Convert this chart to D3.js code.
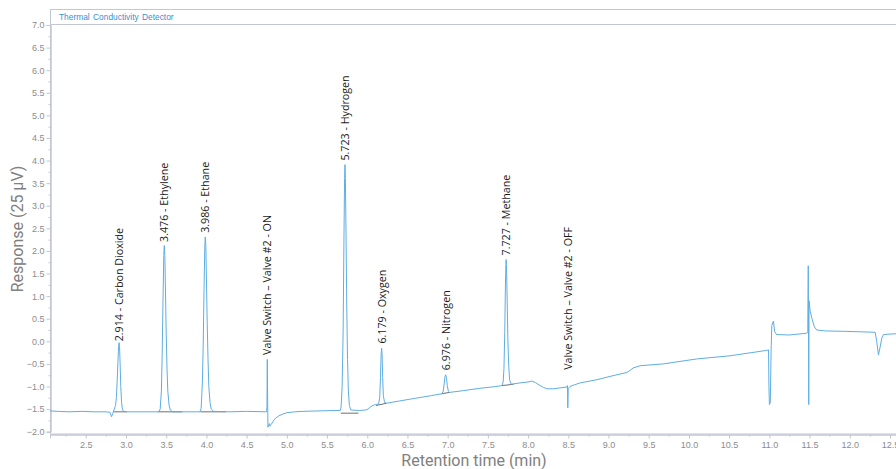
<!DOCTYPE html>
<html>
<head>
<meta charset="utf-8">
<script src="https://cdn.jsdelivr.net/npm/d3@7"></script>
<style>
  body { margin: 0; background: #fff; }
  svg { display: block; }
</style>
</head>
<body>
<svg id="canvas" width="896" height="469"></svg>
<script>
'use strict';

var chartTitle = 'Thermal Conductivity Detector';
var xTitle = 'Retention time (min)';
var yTitle = 'Response (25 \u00b5V)';

var xTickValues = [2.5, 3.0, 3.5, 4.0, 4.5, 5.0, 5.5, 6.0, 6.5, 7.0, 7.5, 8.0, 8.5, 9.0, 9.5, 10.0, 10.5, 11.0, 11.5, 12.0, 12.5];
var yTickValues = [-2.0, -1.5, -1.0, -0.5, 0.0, 0.5, 1.0, 1.5, 2.0, 2.5, 3.0, 3.5, 4.0, 4.5, 5.0, 5.5, 6.0, 6.5, 7.0];

// [time (min), response]
var tracePoints = [
  [2.055, -1.54], [2.15, -1.55], [2.3, -1.56], [2.45, -1.55], [2.6, -1.56], [2.75, -1.56], [2.8, -1.57],
  [2.82, -1.67], [2.835, -1.6], [2.85, -1.52], [2.87, -1.42], [2.88, -1.25], [2.89, -0.9], [2.9, -0.45],
  [2.908, -0.12], [2.914, -0.03], [2.92, -0.12], [2.927, -0.5], [2.935, -1.0], [2.945, -1.35], [2.955, -1.5],
  [2.97, -1.55], [3.0, -1.56], [3.2, -1.56], [3.41, -1.56],
  [3.425, -1.5], [3.44, -1.1], [3.45, -0.3], [3.46, 0.9], [3.47, 1.9], [3.476, 2.12], [3.483, 1.9],
  [3.49, 1.2], [3.5, 0.2], [3.51, -0.6], [3.52, -1.1], [3.535, -1.4], [3.55, -1.52], [3.58, -1.56],
  [3.8, -1.56], [3.92, -1.56],
  [3.935, -1.48], [3.95, -0.9], [3.96, -0.1], [3.97, 1.1], [3.98, 2.1], [3.986, 2.31], [3.993, 2.1],
  [4.0, 1.4], [4.01, 0.4], [4.02, -0.4], [4.03, -1.0], [4.045, -1.35], [4.06, -1.5], [4.09, -1.55],
  [4.3, -1.56], [4.5, -1.55], [4.748, -1.56],
  [4.753, -1.45], [4.757, -0.40], [4.761, -1.2], [4.765, -1.9], [4.772, -1.86], [4.782, -1.82],
  [4.791, -1.88], [4.805, -1.84], [4.83, -1.77], [4.86, -1.70], [4.9, -1.65], [4.95, -1.61],
  [5.0, -1.58], [5.1, -1.56], [5.2, -1.55], [5.4, -1.54], [5.6, -1.53], [5.665, -1.53],
  [5.675, -1.45], [5.688, -1.0], [5.7, 0.2], [5.71, 2.2], [5.718, 3.6], [5.723, 3.91], [5.728, 3.6],
  [5.736, 2.4], [5.745, 0.8], [5.755, -0.4], [5.765, -1.1], [5.778, -1.42], [5.795, -1.52],
  [5.9, -1.53], [5.98, -1.52], [6.01, -1.50], [6.04, -1.45], [6.07, -1.42], [6.1, -1.40], [6.14, -1.39],
  [6.155, -1.25], [6.165, -0.8], [6.172, -0.3], [6.179, -0.15], [6.185, -0.3], [6.192, -0.8], [6.2, -1.2],
  [6.215, -1.35], [6.24, -1.37],
  [6.4, -1.32], [6.6, -1.26], [6.8, -1.20], [6.93, -1.16],
  [6.945, -1.1], [6.958, -0.92], [6.968, -0.77], [6.976, -0.74], [6.985, -0.8], [6.995, -0.98],
  [7.008, -1.1], [7.025, -1.13],
  [7.2, -1.09], [7.4, -1.04], [7.6, -1.0], [7.675, -0.98],
  [7.69, -0.9], [7.7, -0.6], [7.71, 0.2], [7.718, 1.2], [7.724, 1.7], [7.727, 1.81], [7.731, 1.7],
  [7.738, 1.1], [7.748, 0.1], [7.758, -0.5], [7.77, -0.85], [7.79, -0.95],
  [7.9, -0.92], [8.0, -0.90], [8.046, -0.88], [8.09, -0.91], [8.14, -0.97], [8.19, -1.02], [8.233, -1.05],
  [8.32, -1.05], [8.398, -1.03], [8.485, -1.01], [8.49, -0.98], [8.494, -1.47], [8.499, -1.05],
  [8.52, -1.0], [8.58, -0.96], [8.647, -0.92], [8.854, -0.85], [9.057, -0.76], [9.228, -0.69],
  [9.27, -0.64], [9.306, -0.59], [9.393, -0.54], [9.679, -0.50], [10.098, -0.39], [10.512, -0.32],
  [10.969, -0.20], [10.99, -0.19],
  [10.995, -1.0], [11.001, -1.40], [11.012, -1.35], [11.022, -0.2], [11.031, 0.35], [11.051, 0.45],
  [11.066, 0.22], [11.09, 0.15], [11.25, 0.14], [11.466, 0.18],
  [11.478, 0.2], [11.484, 1.67], [11.487, 0.4], [11.49, -1.40], [11.494, 0.9], [11.507, 0.68],
  [11.53, 0.5], [11.56, 0.32], [11.59, 0.25], [11.7, 0.23], [11.95, 0.22], [12.15, 0.21], [12.316, 0.20],
  [12.335, 0.0], [12.357, -0.30], [12.375, -0.15], [12.4, 0.08], [12.419, 0.15], [12.5, 0.16], [12.6, 0.17]
];

// peak annotations: retention time, text, response where the text starts
var peakTimes = [2.914, 3.476, 3.986, 4.757, 5.723, 6.179, 6.976, 7.727, 8.494];
var peakLabels = [
  '2.914 - Carbon Dioxide',
  '3.476 - Ethylene',
  '3.986 - Ethane',
  'Valve Switch \u2013 Valve #2 - ON',
  '5.723 - Hydrogen',
  '6.179 - Oxygen',
  '6.976 - Nitrogen',
  '7.727 - Methane',
  'Valve Switch \u2013 Valve #2 - OFF'
];
var labelResponses = [0.0, 2.2, 2.4, -0.3, 4.0, -0.05, -0.64, 1.9, -0.63];

// integration baselines under peaks: [t0, v0, t1, v1]
var integrationBaselines = [
  [2.84, -1.56, 3.01, -1.56],
  [3.40, -1.56, 3.70, -1.56],
  [3.925, -1.56, 4.24, -1.56],
  [5.67, -1.59, 5.89, -1.59],
  [6.11, -1.42, 6.24, -1.37],
  [6.925, -1.16, 7.025, -1.13],
  [7.675, -0.98, 7.82, -0.95]
];

var MARGIN = { left: 50, top: 24, right: 898, bottom: 434 };
var AXIS_COLOR = '#c3c6d4';
var TICK_TEXT_COLOR = '#8c8c8c';
var TRACE_COLOR = '#5eaee3';

function RenderChart() {
  var svg = d3.select('#canvas');

  var x = d3.scaleLinear()
      .domain([2.055, 12.6])
      .range([MARGIN.left, MARGIN.right]);
  var y = d3.scaleLinear()
      .domain([-2, 7])
      .range([431.7, 25]);

  // frame + title strip
  svg.append('rect')
      .attr('x', MARGIN.left + 0.5)
      .attr('y', 9.5)
      .attr('width', MARGIN.right - MARGIN.left)
      .attr('height', MARGIN.bottom - 9.5)
      .attr('fill', 'none')
      .attr('stroke', AXIS_COLOR);
  svg.append('line')
      .attr('x1', MARGIN.left)
      .attr('x2', MARGIN.right)
      .attr('y1', MARGIN.top + 0.5)
      .attr('y2', MARGIN.top + 0.5)
      .attr('stroke', AXIS_COLOR);
  svg.append('text')
      .attr('x', 59)
      .attr('y', 20)
      .attr('fill', '#3b8fd4')
      .attr('font-family', 'Liberation Sans, Arial, sans-serif')
      .attr('font-size', 8.4)
      .attr('word-spacing', 1)
      .text(chartTitle);

  // axes
  var xMinor = d3.range(2.25, 12.6, 0.25).filter(function(t) {
    return Math.abs(t * 2 - Math.round(t * 2)) > 1e-6;
  });
  svg.append('g')
      .attr('transform', 'translate(0,' + (MARGIN.bottom + 0.5) + ')')
      .call(d3.axisBottom(x).tickValues(xMinor).tickSize(2).tickFormat(''))
      .call(StyleAxis);
  svg.append('g')
      .attr('transform', 'translate(0,' + (MARGIN.bottom + 0.5) + ')')
      .call(d3.axisBottom(x).tickValues(xTickValues).tickSize(4).tickPadding(3)
        .tickFormat(d3.format('.1f')))
      .call(StyleAxis);

  var yMinor = d3.range(-1.75, 7, 0.5);
  svg.append('g')
      .attr('transform', 'translate(' + (MARGIN.left + 0.5) + ',0)')
      .call(d3.axisLeft(y).tickValues(yMinor).tickSize(2).tickFormat(''))
      .call(StyleAxis);
  svg.append('g')
      .attr('transform', 'translate(' + (MARGIN.left + 0.5) + ',0)')
      .call(d3.axisLeft(y).tickValues(yTickValues).tickSize(4).tickPadding(2)
        .tickFormat(d3.format('.1f')))
      .call(StyleAxis);

  // axis titles
  svg.append('text')
      .attr('x', 474)
      .attr('y', 466)
      .attr('text-anchor', 'middle')
      .attr('fill', '#808080')
      .attr('font-family', 'Roboto, sans-serif')
      .attr('font-size', 16)
      .text(xTitle);
  svg.append('text')
      .attr('transform', 'translate(23,229) rotate(-90)')
      .attr('text-anchor', 'middle')
      .attr('fill', '#808080')
      .attr('font-family', 'Roboto, sans-serif')
      .attr('font-size', 16)
      .text(yTitle);

  // integration baselines
  svg.append('g')
    .selectAll('line')
      .data(integrationBaselines)
    .enter().append('line')
      .attr('x1', function(b) { return x(b[0]); })
      .attr('y1', function(b) { return y(b[1]); })
      .attr('x2', function(b) { return x(b[2]); })
      .attr('y2', function(b) { return y(b[3]); })
      .attr('stroke', '#707070')
      .attr('stroke-width', 1);

  // trace
  var line = d3.line()
      .x(function(p) { return x(p[0]); })
      .y(function(p) { return y(p[1]); });
  svg.append('path')
      .datum(tracePoints)
      .attr('d', line)
      .attr('fill', 'none')
      .attr('stroke', TRACE_COLOR)
      .attr('stroke-width', 1)
      .attr('stroke-linejoin', 'round');

  // peak labels
  svg.append('g')
    .selectAll('text')
      .data(peakTimes)
    .enter().append('text')
      .attr('transform', function(t, i) {
        return 'translate(' + [x(t) + 4, y(labelResponses[i])] + ') rotate(-90)';
      })
      .attr('fill', '#1a1a1a')
      .attr('font-family', 'Open Sans, sans-serif')
      .attr('font-size', 10.7)
      .text(function(t, i) { return peakLabels[i]; });
}

function StyleAxis(g) {
  g.select('.domain').attr('stroke', AXIS_COLOR);
  g.selectAll('.tick line').attr('stroke', AXIS_COLOR);
  g.selectAll('.tick text')
      .attr('fill', TICK_TEXT_COLOR)
      .attr('font-family', 'Liberation Sans, Arial, sans-serif')
      .attr('font-size', 9);
}

RenderChart();
</script>
</body>
</html>
